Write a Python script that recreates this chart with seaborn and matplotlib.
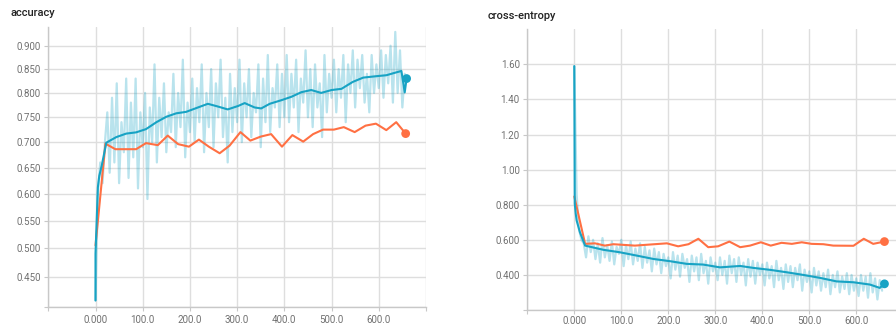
import numpy as np
import pandas as pd
import matplotlib
matplotlib.use("Agg")
import matplotlib.pyplot as plt
import seaborn as sns

# ---------------- data ----------------
raw_steps = list(range(0, 660, 5))

acc_raw = [0.41, 0.60, 0.66, 0.62, 0.70,
           0.76, 0.64, 0.79, 0.66, 0.82, 0.62, 0.74, 0.68, 0.83, 0.63, 0.78, 0.67, 0.83, 0.61, 0.76, 0.69,
           0.80, 0.59, 0.77, 0.70, 0.86, 0.66, 0.79, 0.71, 0.82, 0.68, 0.76, 0.72, 0.84, 0.69, 0.80, 0.73, 0.87, 0.67, 0.78, 0.72,
           0.83, 0.70, 0.81, 0.74, 0.86, 0.68, 0.80, 0.73, 0.85, 0.69, 0.82, 0.75, 0.87, 0.71, 0.79, 0.66, 0.84, 0.72, 0.81, 0.74,
           0.87, 0.70, 0.82, 0.75, 0.85, 0.71, 0.80, 0.76, 0.86, 0.69, 0.83, 0.74, 0.88, 0.72, 0.81, 0.77, 0.86, 0.73, 0.84, 0.75,
           0.88, 0.74, 0.84, 0.77, 0.87, 0.72, 0.83, 0.78, 0.89, 0.75, 0.85, 0.73, 0.86, 0.77, 0.82, 0.71, 0.88, 0.76, 0.84, 0.79,
           0.87, 0.76, 0.85, 0.79, 0.88, 0.74, 0.86, 0.80, 0.89, 0.77, 0.87, 0.81, 0.88, 0.78, 0.84, 0.76, 0.88, 0.80, 0.86, 0.81,
           0.89, 0.79, 0.88, 0.82, 0.90, 0.78, 0.93, 0.80, 0.89, 0.77, 0.84]

acc_smooth_steps = [0, 0, 5, 8, 13, 23, 44, 65, 86, 107, 129, 150, 171, 192, 217, 238, 259, 280, 302,
                    316, 337, 351, 369, 394, 415, 436, 457, 478, 500, 521, 545, 567, 595, 616,
                    637, 648, 655, 659]
acc_smooth = [0.41, 0.49, 0.612, 0.634, 0.653, 0.699, 0.710, 0.717, 0.7195, 0.726, 0.740, 0.751,
              0.758, 0.761, 0.770, 0.7775, 0.772, 0.766, 0.773, 0.779, 0.770, 0.768, 0.7775, 0.785,
              0.792, 0.8015, 0.806, 0.800, 0.806, 0.8085, 0.823, 0.832, 0.835, 0.837, 0.843, 0.846,
              0.801, 0.830]

acc_val_steps = [0, 21, 42, 64, 86, 107, 132, 153, 175, 198, 219, 240, 263, 284, 307, 328, 350,
                 372, 395, 417, 440, 461, 482, 505, 526, 549, 572, 594, 616, 637, 657]
acc_val = [0.505, 0.697, 0.686, 0.686, 0.686, 0.698, 0.694, 0.713, 0.696, 0.691, 0.705, 0.691,
           0.678, 0.693, 0.720, 0.703, 0.711, 0.716, 0.691, 0.714, 0.701, 0.716, 0.725, 0.725,
           0.730, 0.720, 0.733, 0.737, 0.724, 0.740, 0.717]

ce_raw = [1.59, 0.86, 0.66, 0.60, 0.58,
          0.50, 0.62, 0.53, 0.60, 0.49, 0.58, 0.47, 0.61, 0.50, 0.57, 0.48, 0.59, 0.46, 0.56, 0.52, 0.60,
          0.45, 0.57, 0.49, 0.59, 0.46, 0.55, 0.48, 0.58, 0.44, 0.56, 0.47, 0.54, 0.42, 0.55, 0.46, 0.53, 0.41, 0.52, 0.45, 0.50,
          0.38, 0.53, 0.43, 0.51, 0.39, 0.52, 0.44, 0.49, 0.36, 0.51, 0.42, 0.50, 0.37, 0.52, 0.41, 0.48, 0.35, 0.50, 0.42, 0.47,
          0.37, 0.50, 0.40, 0.48, 0.35, 0.51, 0.41, 0.49, 0.36, 0.50, 0.40, 0.47, 0.34, 0.49, 0.39, 0.48, 0.35, 0.47, 0.40, 0.46,
          0.34, 0.47, 0.38, 0.45, 0.33, 0.48, 0.37, 0.44, 0.32, 0.46, 0.36, 0.45, 0.33, 0.44, 0.37, 0.46, 0.31, 0.43, 0.36, 0.42,
          0.30, 0.44, 0.34, 0.42, 0.31, 0.41, 0.33, 0.43, 0.29, 0.40, 0.33, 0.42, 0.30, 0.39, 0.32, 0.41, 0.29, 0.40, 0.31, 0.38,
          0.28, 0.40, 0.31, 0.39, 0.27, 0.41, 0.30, 0.38, 0.26, 0.37, 0.31]

ce_smooth_steps = [0, 1, 3, 5, 12, 23, 62, 97, 133, 168, 204, 239, 274, 310, 353, 381, 416, 452,
                   487, 523, 558, 594, 629, 650, 660]
ce_smooth = [1.59, 0.806, 0.75, 0.71, 0.643, 0.567, 0.543, 0.529, 0.510, 0.491, 0.478, 0.463,
             0.459, 0.443, 0.451, 0.440, 0.429, 0.415, 0.400, 0.383, 0.363, 0.358, 0.345, 0.326, 0.349]

ce_val_steps = [0, 23, 44, 65, 83, 129, 197, 221, 243, 264, 285, 306, 330, 353, 374, 397, 418,
                441, 463, 484, 505, 530, 551, 594, 616, 636, 660]
ce_val = [0.847, 0.577, 0.580, 0.567, 0.575, 0.567, 0.580, 0.563, 0.575, 0.606, 0.558, 0.563,
          0.590, 0.558, 0.567, 0.586, 0.567, 0.583, 0.577, 0.586, 0.577, 0.575, 0.567, 0.566,
          0.606, 0.577, 0.590]

x_ticks = [-100, 0, 100, 200, 300, 400, 500, 600, 700]
x_labels = ["", "0.000", "100.0", "200.0", "300.0", "400.0", "500.0", "600.0", ""]
acc_yticks = [0.40, 0.45, 0.50, 0.55, 0.60, 0.65, 0.70, 0.75, 0.80, 0.85, 0.90]
acc_ylabels = ["", "0.450", "0.500", "0.550", "0.600", "0.650", "0.700", "0.750", "0.800", "0.850", "0.900"]
ce_yticks = [0.2, 0.4, 0.6, 0.8, 1.0, 1.2, 1.4, 1.6]
ce_ylabels = ["", "0.400", "0.600", "0.800", "1.00", "1.20", "1.40", "1.60"]

# ---------------- style ----------------
sns.set_theme(style="white")
plt.rcParams['font.family'] = ['Roboto', 'DejaVu Sans']

TEAL = "#17a3c4"
ORANGE = "#ff7043"
GRID = "#dedede"
TICKC = "#707070"

fig = plt.figure(figsize=(8.96, 3.26), dpi=100)
fig.patch.set_facecolor("white")

ax1 = fig.add_axes([0.0539, 0.0598, 0.4215, 0.8564])
ax2 = fig.add_axes([0.5885, 0.0491, 0.4196, 0.8610])

P = 0.67
def fwd(v):
    v = np.asarray(v, dtype=float)
    return np.sign(v) * np.abs(v) ** P
def inv(v):
    v = np.asarray(v, dtype=float)
    return np.sign(v) * np.abs(v) ** (1.0 / P)
ax1.set_yscale('function', functions=(fwd, inv))


def draw(ax, raw, sm_x, sm, vx, vv):
    df_raw = pd.DataFrame({"step": raw_steps, "value": raw})
    df_sm = pd.DataFrame({"step": sm_x, "value": sm})
    df_v = pd.DataFrame({"step": vx, "value": vv})
    sns.lineplot(data=df_raw, x="step", y="value", ax=ax, color=TEAL, alpha=0.3,
                 linewidth=1.6, estimator=None, sort=False, zorder=2)
    sns.lineplot(data=df_v, x="step", y="value", ax=ax, color=ORANGE,
                 linewidth=1.5, estimator=None, sort=False, zorder=3)
    sns.lineplot(data=df_sm, x="step", y="value", ax=ax, color=TEAL,
                 linewidth=1.5, estimator=None, sort=False, zorder=4)
    sns.scatterplot(data=df_v.tail(1), x="step", y="value", ax=ax, color=ORANGE,
                    s=40, edgecolor="none", zorder=5)
    sns.scatterplot(data=df_sm.tail(1), x="step", y="value", ax=ax, color=TEAL,
                    s=40, edgecolor="none", zorder=5)


draw(ax1, acc_raw, acc_smooth_steps, acc_smooth, acc_val_steps, acc_val)
draw(ax2, ce_raw, ce_smooth_steps, ce_smooth, ce_val_steps, ce_val)

for ax, yt, yl, ylim, xpad in [(ax1, acc_yticks, acc_ylabels, (0.40, 0.94), 3.2),
                               (ax2, ce_yticks, ce_ylabels, (0.2, 1.8), 1.2)]:
    ax.set_xlim(-100, 700)
    ax.set_ylim(*ylim)
    ax.set_xticks(x_ticks)
    ax.set_xticklabels(x_labels)
    ax.set_yticks(yt)
    ax.set_yticklabels(yl)
    ax.minorticks_off()
    ax.set_xlabel("")
    ax.set_ylabel("")
    ax.grid(True, color=GRID, linewidth=1.0)
    ax.set_axisbelow(True)
    for s in ["top", "right"]:
        ax.spines[s].set_visible(False)
    for s in ["left", "bottom"]:
        ax.spines[s].set_color("#c8c8c8")
        ax.spines[s].set_linewidth(1.0)
    ax.tick_params(axis="both", which="both", length=3, width=0.8, color="#c8c8c8",
                   labelcolor=TICKC, labelsize=7)
    ax.tick_params(axis="x", pad=xpad, bottom=True)
    ax.tick_params(axis="y", pad=2.5, left=True)
    ax.set_facecolor("white")

fig.text(0.0112, 0.960, "accuracy", fontsize=8, fontweight="medium", color="#222222",
         ha="left", va="center")
fig.text(0.5446, 0.951, "cross-entropy", fontsize=8, fontweight="medium", color="#222222",
         ha="left", va="center")

fig.savefig("out.png", dpi=100, facecolor="white")
